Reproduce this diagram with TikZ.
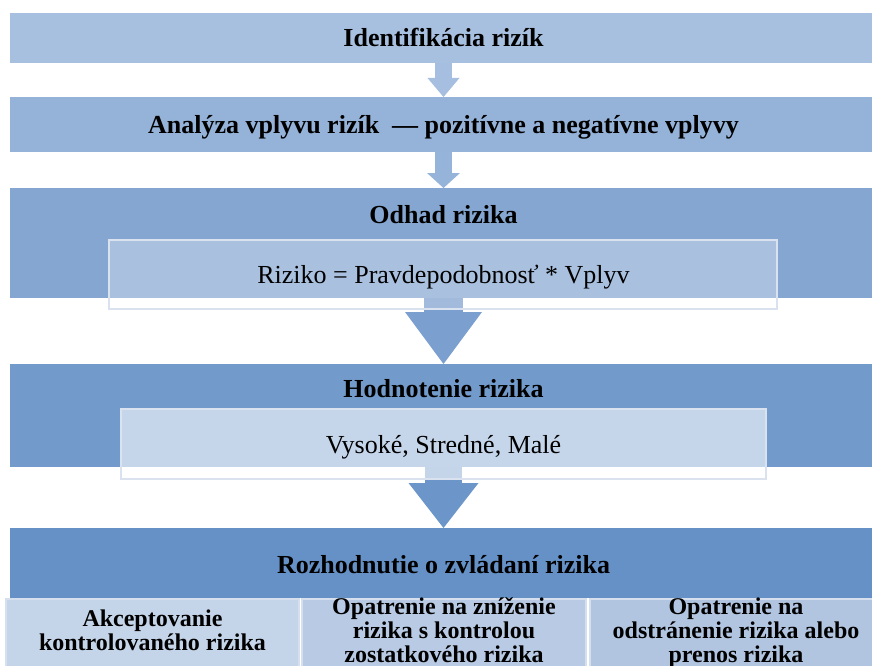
\documentclass[tikz,border=0pt]{standalone}
\usepackage{fontspec}
\setmainfont{Liberation Serif}
\usetikzlibrary{arrows.meta,positioning}

\definecolor{bandA}{RGB}{168,192,224}
\definecolor{bandB}{RGB}{149,179,217}
\definecolor{bandC}{RGB}{132,166,209}
\definecolor{bandD}{RGB}{114,154,203}
\definecolor{bandE}{RGB}{101,145,199}
\definecolor{flowA}{RGB}{166,190,223}
\definecolor{flowB}{RGB}{150,179,217}
\definecolor{flowC}{RGB}{123,159,206}
\definecolor{flowD}{RGB}{108,150,201}
\definecolor{boxline}{RGB}{218,226,239}
\definecolor{colA}{RGB}{197,213,233}
\definecolor{colB}{RGB}{185,202,228}
\definecolor{colC}{RGB}{177,197,225}
\definecolor{colline}{RGB}{214,223,237}

\begin{document}
\begin{tikzpicture}[>=Latex, x=1pt, y=-1pt,
	band/.style={rectangle, inner sep=0pt, outer sep=0pt, minimum width=867pt, fill=#1},
	title/.style={font=\fontsize{26}{30}\selectfont\bfseries, anchor=base, inner sep=0pt},
	plain/.style={font=\fontsize{26}{30}\selectfont, anchor=base, inner sep=0pt},
	inbox/.style={rectangle, inner sep=0pt, outer sep=0pt, fill=white, fill opacity=#1, draw=boxline, line width=2.5pt},
	col/.style={rectangle, inner sep=0pt, outer sep=0pt, minimum height=81pt, fill=#1, draw=colline, line width=2.5pt},
	coltext/.style={font=\fontsize{24}{24}\selectfont\bfseries, align=center, anchor=north, inner sep=0pt},
	flow/.style={draw=#1, line width=17pt, -{Triangle[width=32pt, length=19pt, line width=0pt]}},
	]
	
	\useasboundingbox (0,0) rectangle (872,666);
	
	% the five steps
	\node[band=bandA, minimum height=50pt] (ident) at (443.5,38) {};
	\node[band=bandB, minimum height=55pt] (analyza) at (443.5,124.5) {};
	\node[band=bandC, minimum height=110pt] (odhad) at (443.5,243) {};
	\node[band=bandD, minimum height=103pt] (hodnot) at (443.5,415.5) {};
	\node[band=bandE, minimum height=70pt] (rozhod) at (443.5,563) {};
	
	% block arrows between the steps
	\draw[flow=flowA] (ident) -- (analyza);
	\draw[flow=flowB, -{Triangle[width=33pt, length=15pt, line width=0pt]}] (analyza) -- (odhad);
	\draw[flow=flowC, line width=39pt, -{Triangle[width=77pt, length=52pt, line width=0pt]}] (odhad) -- (hodnot);
	\draw[flow=flowD, line width=37pt, -{Triangle[width=70pt, length=45pt, line width=0pt]}] (hodnot) -- (rozhod);
	
	% inner boxes
	\node[inbox=0.3, minimum width=668pt, minimum height=69pt] (vzorec) at (443,274.5) {};
	\node[inbox=0.6, minimum width=645pt, minimum height=70pt] (stupne) at (443.5,444) {};
	
	% titles
	\node[title] (identT) at (443.5,47) {Identifikácia rizík};
	\node[title] (analyzaT) at (443.5,133) {Analýza vplyvu rizík~~— pozitívne a negatívne vplyvy};
	\node[title] (odhadT) at (443.5,223) {Odhad rizika};
	\node[plain] (vzorecT) at (443.5,283) {Riziko = Pravdepodobnosť * Vplyv};
	\node[title] (hodnotT) at (443.5,397) {Hodnotenie rizika};
	\node[plain] (stupneT) at (443.5,453) {Vysoké, Stredné, Malé};
	\node[title] (rozhodT) at (443.5,573) {Rozhodnutie o zvládaní rizika};
	
	% decision options
	\node[col=colA, minimum width=293pt] (akcept) at (152.5,639.5) {};
	\node[col=colB, minimum width=284pt] (znizenie) at (444,639.5) {};
	\node[col=colC, minimum width=292pt] (odstran) at (736,639.5) {};
	\node[coltext] (akceptT) at (152.5,610) {Akceptovanie\\kontrolovaného rizika};
	\node[coltext] (znizenieT) at (444,597.5) {Opatrenie na zníženie\\rizika s kontrolou\\zostatkového rizika};
	\node[coltext] (odstranT) at (736,597.5) {Opatrenie na\\odstránenie rizika alebo\\prenos rizika};
	
\end{tikzpicture}
\end{document}
